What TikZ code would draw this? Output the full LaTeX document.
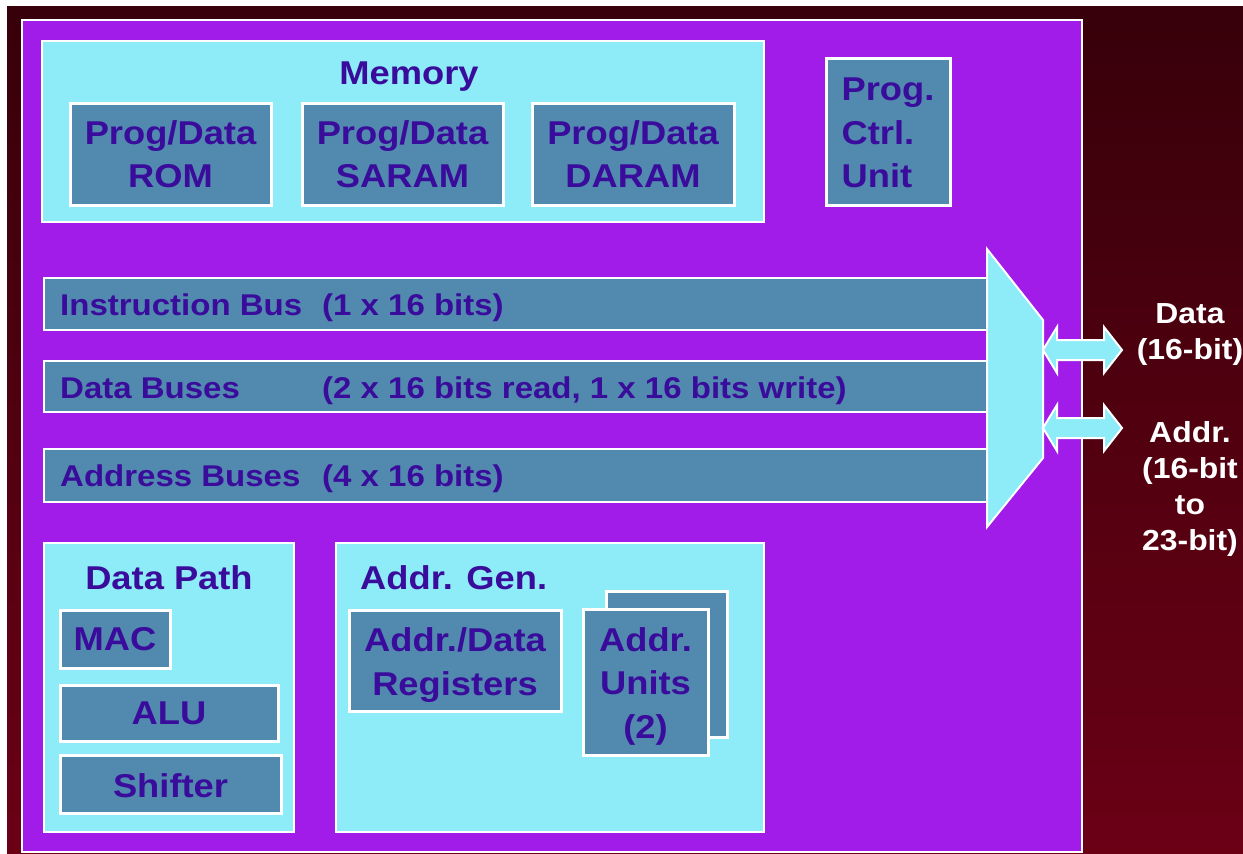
\documentclass[tikz,border=0pt]{standalone}
\usepackage{fontspec}
\newfontfamily\boxf{Liberation Sans}[FakeStretch=1.1]
\definecolor{bgtop}{HTML}{37000A}
\definecolor{bgbot}{HTML}{6B0015}
\definecolor{purp}{HTML}{A11CE8}
\definecolor{cyanf}{HTML}{8EEBF8}
\definecolor{steel}{HTML}{5289AE}
\definecolor{ink}{HTML}{3A0C9C}
\tikzset{
  chipbox/.style={draw=white, line width=2pt, fill=purp, inner sep=0pt},
  panel/.style={draw=white, line width=2.5pt, fill=cyanf, inner sep=0pt},
  unitbox/.style={draw=white, line width=3pt, fill=steel, inner sep=0pt, text=ink, align=center,
    font=\boxf\bfseries\fontsize{33}{43}\selectfont},
  unittext/.style={inner sep=0pt, text=ink, align=center, font=\boxf\bfseries\fontsize{33}{43.5}\selectfont},
  busbox/.style={draw=white, line width=2.5pt, fill=steel, inner sep=0pt},
  title/.style={inner sep=0pt, text=ink, font=\boxf\bfseries\fontsize{33}{43}\selectfont},
  bustext/.style={inner sep=0pt, text=ink, font=\boxf\bfseries\fontsize{30}{36}\selectfont},
  sidetext/.style={inner sep=0pt, text=white, align=center, font=\boxf\bfseries\fontsize{29}{36}\selectfont},
  conn/.style={draw=white, line width=2pt, fill=cyanf}
}
\begin{document}
\begin{tikzpicture}[x=1pt,y=-1pt]
\useasboundingbox (0,0) rectangle (1243,854);
\fill[white] (0,0) rectangle (1243,854);
\shade[top color=bgtop, bottom color=bgbot] (7,6) rectangle (1243,854);

\node[chipbox, minimum width=1060pt, minimum height=832pt] (chip) at (552,436) {};

% Memory
\node[panel, minimum width=722pt, minimum height=181pt] (mem) at (403,131.5) {};
\node[title, anchor=base] (memt) at (409,84) {Memory};
\node[unitbox, minimum width=201pt, minimum height=102pt] (rom) at (170.5,154) {Prog/Data\\ROM};
\node[unitbox, minimum width=201pt, minimum height=102pt] (saram) at (402.5,154) {Prog/Data\\SARAM};
\node[unitbox, minimum width=202pt, minimum height=102pt] (daram) at (633,154) {Prog/Data\\DARAM};
\node[unitbox, minimum width=124pt, minimum height=147pt] (pcu) at (888,131.5) {};
\node[unittext, align=left] (pcut) at (888,133) {Prog.\\Ctrl.\\Unit};

% Buses
\node[busbox, minimum width=944pt, minimum height=52pt] (ibus) at (516,304) {};
\node[busbox, minimum width=944pt, minimum height=51pt] (dbus) at (516,386.5) {};
\node[busbox, minimum width=944pt, minimum height=53pt] (abus) at (516,475.5) {};
\node[bustext, anchor=base west] (ibt1) at (60,315) {Instruction Bus};
\node[bustext, anchor=base west] (ibt2) at (322,315) {(1 x 16 bits)};
\node[bustext, anchor=base west] (dbt1) at (60,398) {Data Buses};
\node[bustext, anchor=base west] (dbt2) at (322,398) {(2 x 16 bits read, 1 x 16 bits write)};
\node[bustext, anchor=base west] (abt1) at (60,486) {Address Buses};
\node[bustext, anchor=base west] (abt2) at (322,486) {(4 x 16 bits)};

% Mux
\coordinate (m1) at (987,249);
\coordinate (m2) at (1043,320);
\coordinate (m3) at (1043,458);
\coordinate (m4) at (987,527);
\draw[conn] (m1) -- (m2) -- (m3) -- (m4) -- cycle;

% Double arrows
\draw[conn] (1043,350) -- (1057,327) -- (1057,340) -- (1104,340) -- (1104,327) -- (1122,350)
  -- (1104,373) -- (1104,360) -- (1057,360) -- (1057,373) -- cycle;
\draw[conn] (1043,428) -- (1057,405) -- (1057,418) -- (1104,418) -- (1104,405) -- (1122,428)
  -- (1104,451) -- (1104,438) -- (1057,438) -- (1057,451) -- cycle;
\node[sidetext] (datal) at (1190,335) {Data\\(16-bit)};
\node[sidetext] (addrl) at (1190,489) {Addr.\\(16-bit\\to\\23-bit)};

% Data path
\node[panel, minimum width=250pt, minimum height=289pt] (dpath) at (169,687.5) {};
\node[title, anchor=base] (dpt) at (169,589) {Data Path};
\node[unitbox, minimum width=110pt, minimum height=58pt] (mac) at (115,639) {MAC};
\node[unitbox, minimum width=218pt, minimum height=56pt] (alu) at (169,713) {ALU};
\node[unitbox, minimum width=221pt, minimum height=58pt] (shift) at (170.5,784) {};
\node[unittext] (shiftt) at (170.5,786) {Shifter};

% Addr gen
\node[panel, minimum width=428pt, minimum height=289pt] (agen) at (550,687.5) {};
\node[title, anchor=base west] (agt) at (360,589) {Addr. Gen.};
\node[unitbox, minimum width=212pt, minimum height=101pt] (regs) at (455,660.5) {};
\node[unittext] (regst) at (455,665) {Addr./Data\\Registers};
\node[unitbox, minimum width=121pt, minimum height=146pt] (unitsb) at (666.5,664) {};
\node[unitbox, minimum width=125pt, minimum height=146pt] (units) at (645.5,682) {};
\node[unittext] (unitst) at (645.5,686) {Addr.\\Units\\(2)};
\end{tikzpicture}
\end{document}
